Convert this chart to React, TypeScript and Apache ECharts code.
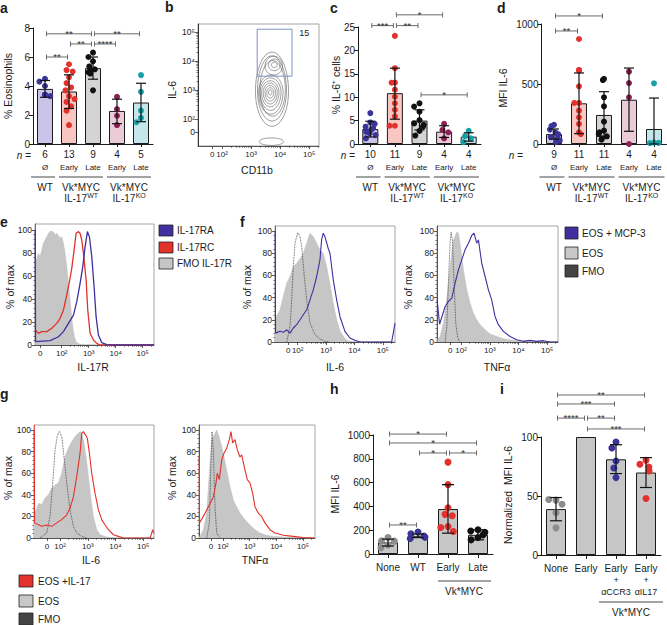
import React, { useEffect, useRef } from "react";
import * as echarts from "echarts";

const FONT = '"Liberation Sans", Arial, Helvetica, sans-serif';
const INK = "#1b1b1b";
const PURPLE = "#3f2f9f";
const RED = "#e3312b";
const GRAYFILL = "#c6c6c6";
const DOTLINE = "#333333";

// ---------------- shared category info (a, c, d) ----------------
const groupKeys = ["WT", "Early WT", "Late WT", "Early KO", "Late KO"];
const subLabels = ["Ø", "Early", "Late", "Early", "Late"];
const groupFills = ["#c9c4e8", "#f8c7c2", "#d4d4d4", "#eccbd8", "#c3e7ea"];
const groupDots = ["#3b3499", "#e2322b", "#111111", "#8b2156", "#17a1a7"];

// ---------------- panel a : % eosinophils ----------------
const aN = [6, 13, 9, 4, 5];
const aMean = [3.8, 3.62, 5.23, 2.28, 2.86];
const aErrHi = [4.38, 4.77, 6.0, 3.09, 4.19];
const aErrLo = [3.22, 2.45, 4.47, 1.4, 1.54];
const aDots = [
  [4.5, 4.3, 4.0, 3.4, 3.3, 3.4],
  [5.5, 5.1, 5.0, 4.6, 4.2, 3.9, 3.7, 3.3, 3.1, 2.9, 2.6, 2.3, 1.3],
  [6.3, 6.0, 5.7, 5.35, 5.15, 5.05, 4.95, 4.85, 3.7],
  [3.25, 2.4, 1.95, 1.3],
  [4.75, 3.6, 2.3, 1.8, 1.5],
];
const aSig = [
  { from: 0, to: 2, y: 7.6, s: "**" },
  { from: 2, to: 4, y: 7.6, s: "**" },
  { from: 1, to: 2, y: 6.9, s: "**" },
  { from: 2, to: 3, y: 6.9, s: "****" },
  { from: 0, to: 1, y: 6.0, s: "**" },
];

// ---------------- panel c : % IL-6+ cells ----------------
const cN = [10, 11, 9, 4, 4];
const cMean = [3.2, 10.86, 5.0, 2.64, 1.57];
const cErrHi = [4.86, 16.2, 7.3, 3.9, 2.4];
const cErrLo = [1.5, 5.3, 3.0, 1.4, 0.6];
const cDots = [
  [6.6, 4.6, 4.3, 3.7, 3.4, 3.0, 2.6, 2.3, 1.9, 1.2],
  [23.1, 16.2, 13.1, 13.1, 11.6, 10.1, 8.7, 7.3, 5.9, 3.9, 3.9],
  [8.7, 8.0, 6.9, 5.1, 4.4, 4.1, 3.7, 2.8, 1.8],
  [4.3, 3.0, 2.5, 1.2],
  [2.8, 1.7, 1.2, 0.4],
];
const cSig = [
  { from: 1, to: 3, y: 27.6, s: "*" },
  { from: 0, to: 1, y: 25.3, s: "***" },
  { from: 1, to: 2, y: 25.3, s: "**" },
  { from: 2, to: 4, y: 10.5, s: "*" },
];

// ---------------- panel d : MFI IL-6 ----------------
const dN = [9, 11, 11, 4, 4];
const dMean = [83, 339, 242, 369, 125];
const dErrHi = [125, 592, 436, 633, 383];
const dErrLo = [40, 86, 48, 106, 0];
const dDots = [
  [160, 150, 120, 95, 80, 60, 45, 30, 15],
  [875, 617, 611, 481, 342, 342, 278, 222, 167, 97, 83],
  [542, 533, 389, 314, 186, 111, 97, 83, 64, 47, 36],
  [603, 508, 389, 0],
  [506, 12, 8, 10],
];
const dSig = [
  { from: 0, to: 2, y: 1067, s: "*" },
  { from: 0, to: 1, y: 942, s: "**" },
];

// ---------------- panel h : MFI IL-6 (in vitro) ----------------
const hCats = ["None", "WT", "Early", "Late"];
const hMean = [97, 153, 378, 161];
const hErrHi = [125, 168, 583, 203];
const hErrLo = [67, 138, 175, 119];
const hDots = [
  [139, 111, 108, 75, 52],
  [185, 170, 150, 140, 130],
  [772, 583, 389, 333, 322, 231, 222, 189],
  [203, 194, 183, 161, 139, 119],
];
const hDotColors = ["#8c8c8c", "#3b3499", "#e2322b", "#111111"];
const hSig = [
  { from: 0, to: 2, y: 1008, s: "*" },
  { from: 0, to: 3, y: 933, s: "*" },
  { from: 1, to: 2, y: 849, s: "*" },
  { from: 2, to: 3, y: 849, s: "*" },
  { from: 0, to: 1, y: 244, s: "**" },
];

// ---------------- panel i : normalized MFI IL-6 ----------------
const iCats = ["None", "Early", "Early + αCCR3", "Early + αIL17"];
const iLabelMain = ["None", "Early", "Early", "Early"];
const iLabelTreat = ["", "", "αCCR3", "αIL17"];
const iMean = [38.9, 100, 81.1, 69.9];
const iErrHi = [48.7, 100, 93.5, 82.5];
const iErrLo = [29, 100, 69, 57.2];
const iDots = [
  [46.5, 47, 43, 35.8, 23],
  [],
  [95.8, 90.7, 79.7, 73.8, 65.6],
  [80.3, 76.9, 74.6, 71.3, 47.9],
];
const iDotColors = ["#8c8c8c", "#8c8c8c", "#3b3499", "#e2322b"];
const iSig = [
  { from: 0, to: 3, y: 135.6, s: "**" },
  { from: 0, to: 2, y: 128, s: "***" },
  { from: 0, to: 1, y: 116, s: "****" },
  { from: 1, to: 2, y: 116, s: "**" },
  { from: 1, to: 3, y: 106.8, s: "***" },
];

// ---------------- panel b : contour plot (log-decade units) ----------------
const bCx = [3.72, 3.72, 3.74, 3.78, 3.8, 3.8, 3.68, 3.67, 3.66, 3.66, 3.66, 3.66, 3.66, 3.7];
const bCy = [2.95, 2.98, 3.0, 3.82, 3.85, 3.86, 2.92, 2.92, 2.92, 2.92, 2.92, 2.92, 2.93, 1.22];
const bRx = [0.57, 0.5, 0.44, 0.3, 0.2, 0.1, 0.42, 0.36, 0.3, 0.24, 0.18, 0.12, 0.06, 0.42];
const bRyUp = [1.36, 1.2, 1.02, 0.35, 0.22, 0.1, 0.6, 0.5, 0.4, 0.32, 0.24, 0.16, 0.08, 0.13];
const bRyDn = [1.2, 1.05, 0.9, 0.3, 0.18, 0.08, 0.75, 0.62, 0.5, 0.4, 0.3, 0.2, 0.1, 0.13];
const bGate = [3.21, 3.48, 4.41, 5.1];
const bGateLabel = [4.83, 4.97];
const bGatePct = "15";

// ---------------- histograms (x in log-decade display units, y in % of max) ----------------
const eFmo = [[1.015, 71], [1.077, 75.4], [1.138, 79.7], [1.2, 76.8], [1.262, 82.6], [1.323, 88.4], [1.385, 91.3], [1.447, 94.2], [1.509, 97.1], [1.57, 98.6], [1.632, 99.1], [1.694, 98], [1.756, 95.7], [1.817, 97.1], [1.879, 95], [1.941, 92.8], [2.002, 94.2], [2.064, 88.4], [2.126, 79.7], [2.188, 68.1], [2.249, 53.6], [2.311, 39.1], [2.373, 23.2], [2.435, 11.6], [2.496, 4.9], [2.558, 2], [2.68, 0.6], [2.8, 0]];
const eRC = [[1.02, 13], [1.138, 10.1], [1.262, 11.6], [1.447, 11.6], [1.632, 14.5], [1.817, 18.8], [1.941, 23.2], [2.064, 30.4], [2.188, 43.5], [2.286, 55], [2.373, 66.7], [2.459, 82.6], [2.533, 97.1], [2.62, 98.6], [2.681, 97.1], [2.743, 91.3], [2.805, 79.7], [2.904, 56.5], [2.965, 30.4], [3.052, 10.1], [3.175, 4.3], [3.299, 1.4], [3.422, 0], [5.42, 0]];
const eRA = [[1.015, 100], [1.03, 3], [1.57, 3.8], [1.879, 7.2], [2.064, 11.6], [2.249, 18.8], [2.435, 26], [2.558, 37.7], [2.681, 53.6], [2.78, 68], [2.867, 85.5], [2.953, 98.6], [3.027, 94], [3.114, 76.8], [3.2, 50.7], [3.274, 24.6], [3.36, 8.7], [3.484, 2], [3.67, 0.3], [3.916, 0], [5.42, 0]];

const f1Eos = [[1.2, 14], [1.236, 22], [1.377, 29], [1.493, 41], [1.613, 53], [1.729, 59], [1.845, 68], [1.965, 71], [2.081, 75], [2.197, 80], [2.317, 89], [2.433, 98], [2.549, 95], [2.669, 89], [2.785, 83], [2.901, 80], [3.021, 68], [3.137, 52], [3.254, 35], [3.373, 20], [3.489, 10], [3.665, 3], [3.842, 0]];
const f1Fmo = [[1.613, 0], [1.729, 14], [1.789, 38], [1.845, 68], [1.905, 89], [2.0, 98.5], [2.081, 95], [2.141, 86], [2.222, 62], [2.317, 38], [2.433, 17], [2.609, 6.6], [2.785, 2.7], [2.961, 0.6], [3.137, 0]];
const f1Mcp = [[1.205, 100], [1.22, 8], [1.377, 9.6], [1.493, 8.7], [1.613, 11], [1.729, 8], [1.845, 12.6], [1.965, 15.6], [2.081, 20], [2.197, 24.6], [2.317, 29], [2.433, 38], [2.549, 47], [2.669, 59], [2.785, 74], [2.843, 92], [2.901, 98], [2.96, 95], [3.08, 84], [3.137, 80], [3.254, 56], [3.373, 38], [3.489, 23], [3.665, 9.6], [3.842, 3.6], [4.018, 1.5], [4.194, 0], [5.31, 0], [5.37, 8], [5.43, 17]];

const f2Eos = [[1.174, 2], [1.268, 5], [1.383, 17], [1.502, 38], [1.617, 68], [1.732, 92], [1.791, 95], [1.85, 99], [1.907, 98], [1.965, 89], [2.022, 77], [2.08, 65], [2.199, 47], [2.314, 35], [2.429, 26], [2.547, 20], [2.662, 15.6], [2.777, 12.6], [2.895, 9.6], [3.01, 7.2], [3.244, 5], [3.474, 3], [3.707, 2], [3.94, 1.2], [4.4, 0.9], [4.87, 0.6], [5.33, 0]];
const f2Fmo = [[1.443, 0], [1.502, 14], [1.557, 53], [1.617, 89], [1.652, 99], [1.698, 92], [1.756, 53], [1.815, 17], [1.885, 3.6], [1.965, 0]];
const f2Mcp = [[1.165, 38], [1.25, 16], [1.443, 32], [1.557, 36.5], [1.676, 39.5], [1.791, 53], [1.907, 65], [2.022, 74], [2.138, 83], [2.257, 89], [2.372, 96], [2.45, 98], [2.547, 89], [2.605, 92], [2.72, 71], [2.837, 59], [2.953, 47], [3.068, 38], [3.183, 23], [3.3, 15.6], [3.474, 9.6], [3.707, 5], [3.94, 2], [4.17, 0.6], [4.4, 1.5], [4.63, 0.6], [4.87, 1.2], [5.1, 0], [5.38, 0]];

const g1Eos = [[1.06, 23], [1.097, 23], [1.218, 32], [1.338, 31], [1.458, 37], [1.579, 40], [1.699, 46], [1.82, 49], [1.94, 51], [2.06, 60], [2.18, 75], [2.3, 83], [2.421, 89], [2.541, 94], [2.662, 97], [2.722, 98.5], [2.782, 97], [2.842, 91], [2.939, 75], [3.023, 57], [3.107, 38], [3.203, 20], [3.324, 7.7], [3.444, 3], [3.685, 1], [3.925, 0]];
const g1Fmo = [[1.278, 0], [1.519, 4.6], [1.639, 20], [1.735, 51], [1.82, 81.5], [1.904, 95], [1.976, 98.5], [2.06, 94], [2.144, 75], [2.24, 51], [2.361, 26], [2.481, 10.8], [2.602, 4.6], [2.782, 1.5], [2.963, 0]];
const g1Il17 = [[1.065, 100], [1.08, 14], [1.338, 10.8], [1.519, 12], [1.699, 10.8], [1.88, 14], [2.06, 17], [2.24, 21.5], [2.361, 27.7], [2.481, 38], [2.602, 57], [2.722, 78.5], [2.782, 97], [2.842, 98.5], [2.927, 95], [2.987, 92], [3.059, 78.5], [3.143, 60], [3.263, 41.5], [3.384, 26], [3.504, 17], [3.625, 12], [3.745, 7.7], [3.925, 3], [4.106, 1.5], [4.286, 0], [5.25, 0], [5.345, 7.7], [5.385, 4]];

const g2Eos = [[1.1, 1], [1.139, 1.5], [1.263, 7.7], [1.388, 23], [1.488, 60], [1.575, 91], [1.663, 95], [1.763, 100], [1.85, 94], [1.95, 84.6], [2.037, 75], [2.137, 63], [2.262, 47.7], [2.387, 35], [2.512, 29], [2.637, 23], [2.824, 17], [3.011, 12], [3.199, 7.7], [3.386, 4.6], [3.635, 2.5], [3.885, 1.5], [4.26, 1], [4.884, 0.5], [5.38, 0]];
const g2Fmo = [[1.388, 0], [1.488, 14], [1.538, 60], [1.588, 98.5], [1.638, 81.5], [1.7, 29], [1.763, 4.6], [1.888, 0]];
const g2Il17 = [[1.105, 75], [1.12, 14], [1.263, 20], [1.388, 26], [1.513, 32], [1.638, 38], [1.738, 51], [1.788, 60], [1.863, 54], [1.95, 72], [2.037, 78.5], [2.137, 83], [2.237, 91], [2.3, 98.5], [2.362, 88], [2.45, 91], [2.537, 81.5], [2.637, 75], [2.7, 77], [2.824, 63], [2.911, 54], [3.011, 51], [3.111, 41.5], [3.199, 29], [3.323, 23], [3.448, 20], [3.573, 14], [3.76, 7.7], [3.948, 4.6], [4.26, 2.5], [4.634, 1.5], [5.009, 0.5], [5.446, 0]];

const pctTicks = [0, 20, 40, 60, 80, 100];
const pctMinor = [4, 8, 12, 16, 24, 28, 32, 36, 44, 48, 52, 56, 64, 68, 72, 76, 84, 88, 92, 96];

// ---------------- helpers ----------------
let measureCtx: any = null;
function textW(s: string, size: number) {
  if (!measureCtx) measureCtx = document.createElement("canvas").getContext("2d");
  measureCtx.font = `${size}px ${FONT}`;
  return measureCtx.measureText(s).width;
}

function fmtLog(v: number, zero: number) {
  if (Math.abs(v - zero) < 1e-6) return "0";
  const sup: any = { 2: "²", 3: "³", 4: "⁴", 5: "⁵" };
  return "10" + (sup[Math.round(v)] || "");
}

function minorLog(max: number) {
  const out: number[] = [];
  for (let d = 2; d <= 5; d++) {
    for (let k = 2; k <= 9; k++) {
      const v = d + Math.log10(k);
      if (v < max) out.push(v);
    }
  }
  return out;
}

function T(x: number, y: number, text: string, o: any = {}) {
  const { rotation, ...st } = o;
  return {
    type: "text",
    x,
    y,
    rotation: rotation || 0,
    silent: true,
    z: 10,
    style: {
      text,
      fontSize: 10,
      fontFamily: FONT,
      fill: INK,
      align: "center",
      textAlign: "center",
      verticalAlign: "middle",
      textVerticalAlign: "middle",
      ...st,
    },
  };
}

function L(x1: number, y1: number, x2: number, y2: number, color = INK, w = 1) {
  return { type: "line", silent: true, z: 10, shape: { x1, y1, x2, y2 }, style: { stroke: color, lineWidth: w } };
}

function R(x: number, y: number, w: number, h: number, fill: string) {
  return { type: "rect", silent: true, z: 10, shape: { x, y, width: w, height: h }, style: { fill, stroke: "#222", lineWidth: 0.8 } };
}

function supLabel(cx: number, y: number, base: string, sup: string) {
  const bw = textW(base, 10);
  const sw = textW(sup, 7);
  const x0 = cx - (bw + sw) / 2;
  return [
    T(x0, y, base, { align: "left", textAlign: "left" }),
    T(x0 + bw + 0.3, y - 3.2, sup, { align: "left", textAlign: "left", fontSize: 7 }),
  ];
}

function buildOption() {
  const grids: any[] = [];
  const xAxis: any[] = [];
  const yAxis: any[] = [];
  const series: any[] = [];
  const els: any[] = [];

  function addGrid(left: number, top: number, width: number, height: number, extra: any = {}) {
    grids.push({ left, top, width, height, containLabel: false, outerBoundsMode: "none", ...extra });
    return grids.length - 1;
  }

  function barPanel(p: any) {
    const n = p.keys.length;
    const g = addGrid(p.left, p.top, p.band * n, p.height);
    const xi = xAxis.length;
    xAxis.push({
      type: "category",
      gridIndex: g,
      data: p.keys,
      boundaryGap: true,
      axisLine: { show: true, onZero: false, lineStyle: { color: INK, width: 1 } },
      axisTick: { show: true, alignWithLabel: true, length: p.tickLen, lineStyle: { color: INK, width: 1 } },
      axisLabel: {
        show: true,
        interval: 0,
        margin: p.labelMargin,
        formatter: (_v: any, i: number) => p.labelFmt(i),
        color: INK,
        fontFamily: FONT,
        ...(p.labelStyle || {}),
      },
      splitLine: { show: false },
      jitter: p.barWidth - 4,
      jitterOverlap: false,
      jitterMargin: 0.3,
    });
    const yi = yAxis.length;
    yAxis.push({
      type: "value",
      gridIndex: g,
      min: 0,
      max: p.yMax,
      interval: p.yInterval,
      axisLine: { show: true, onZero: false, lineStyle: { color: INK, width: 1 } },
      axisTick: { show: true, length: 4, lineStyle: { color: INK, width: 1 } },
      axisLabel: { fontSize: 10, margin: 3, color: INK, fontFamily: FONT, formatter: (v: number) => String(v) },
      splitLine: { show: false },
    });
    series.push({
      type: "bar",
      xAxisIndex: xi,
      yAxisIndex: yi,
      barWidth: p.barWidth,
      z: 2,
      silent: true,
      data: p.mean.map((m: number, i: number) => ({
        value: m,
        itemStyle: { color: p.fills[i], borderColor: INK, borderWidth: 1 },
      })),
    });
    p.dots.forEach((arr: number[], i: number) => {
      if (!arr.length) return;
      series.push({
        type: "scatter",
        xAxisIndex: xi,
        yAxisIndex: yi,
        symbolSize: p.dotSize,
        z: 3,
        silent: true,
        data: arr.map((v) => [i, v]),
        itemStyle: { color: p.dotColors[i], opacity: 1 },
      });
    });
    const errData = p.mean
      .map((_m: number, i: number) => [i, p.lo[i], p.hi[i]])
      .filter((d: number[]) => d[1] !== d[2]);
    const capW = p.capW;
    series.push({
      type: "custom",
      xAxisIndex: xi,
      yAxisIndex: yi,
      z: 4,
      silent: true,
      encode: { x: 0, y: [1, 2] },
      data: errData,
      renderItem: (_params: any, api: any) => {
        const x = api.value(0);
        const a = api.coord([x, api.value(1)]);
        const b = api.coord([x, api.value(2)]);
        const st = { stroke: "#111", lineWidth: 1.2 };
        const h = capW / 2;
        return {
          type: "group",
          children: [
            { type: "line", shape: { x1: a[0], y1: a[1], x2: b[0], y2: b[1] }, style: st },
            { type: "line", shape: { x1: a[0] - h, y1: a[1], x2: a[0] + h, y2: a[1] }, style: st },
            { type: "line", shape: { x1: b[0] - h, y1: b[1], x2: b[0] + h, y2: b[1] }, style: st },
          ],
        };
      },
    });
    const sig = p.sig;
    series.push({
      type: "custom",
      xAxisIndex: xi,
      yAxisIndex: yi,
      z: 5,
      silent: true,
      encode: { x: [0, 1], y: 2 },
      data: sig.map((s: any) => [s.from, s.to, s.y]),
      renderItem: (params: any, api: any) => {
        const a = api.coord([api.value(0), api.value(2)]);
        const b = api.coord([api.value(1), api.value(2)]);
        const x1 = a[0] + 1.5;
        const x2 = b[0] - 1.5;
        const y = a[1];
        const st = { stroke: "#6a6a6a", lineWidth: 1 };
        return {
          type: "group",
          children: [
            { type: "line", shape: { x1, y1: y, x2, y2: y }, style: st },
            { type: "line", shape: { x1, y1: y - 2.5, x2: x1, y2: y + 2.5 }, style: st },
            { type: "line", shape: { x1: x2, y1: y - 2.5, x2, y2: y + 2.5 }, style: st },
            {
              type: "text",
              x: (x1 + x2) / 2,
              y: y - 0.5,
              style: {
                text: sig[params.dataIndex].s,
                fontSize: 9.5,
                fontFamily: FONT,
                fill: "#333",
                align: "center",
                textAlign: "center",
                verticalAlign: "middle",
                textVerticalAlign: "middle",
              },
            },
          ],
        };
      },
    });
    return { xi, yi, centers: p.keys.map((_k: any, i: number) => p.left + (i + 0.5) * p.band) };
  }

  function flowPanel(p: any) {
    const g = addGrid(p.left, p.top, p.width, p.height, {
      show: true,
      borderColor: "#8f8f8f",
      borderWidth: 0.8,
      backgroundColor: "rgba(0,0,0,0)",
    });
    const majors = [p.zero, 2, 3, 4, 5];
    const xi = xAxis.length;
    const tickStyle = { color: "#333", width: 0.8 };
    xAxis.push({
      type: "value",
      gridIndex: g,
      position: "bottom",
      min: p.xMin,
      max: p.xMax,
      axisLine: { show: true, onZero: false, lineStyle: { color: "#333", width: 0.8 } },
      axisTick: { show: true, customValues: majors, length: 3, lineStyle: tickStyle },
      axisLabel: {
        show: true,
        customValues: majors,
        formatter: (v: number) => fmtLog(v, p.zero),
        fontSize: 8,
        margin: 4,
        color: INK,
        fontFamily: FONT,
      },
      splitLine: { show: false },
    });
    xAxis.push({
      type: "value",
      gridIndex: g,
      position: "bottom",
      min: p.xMin,
      max: p.xMax,
      axisLine: { show: false },
      axisTick: { show: true, customValues: minorLog(p.xMax), length: 1.8, lineStyle: { color: "#333", width: 0.6 } },
      axisLabel: { show: false },
      splitLine: { show: false },
    });
    const yi = yAxis.length;
    yAxis.push({
      type: "value",
      gridIndex: g,
      position: "left",
      min: p.yMin,
      max: p.yMax,
      axisLine: { show: true, onZero: false, lineStyle: { color: p.leftColor, width: 1 } },
      axisTick: { show: true, customValues: p.yTicks, length: 3, lineStyle: tickStyle },
      axisLabel: {
        show: true,
        customValues: p.yTicks,
        formatter: p.yFmt,
        fontSize: 8.5,
        margin: 3,
        color: INK,
        fontFamily: FONT,
      },
      splitLine: { show: false },
    });
    yAxis.push({
      type: "value",
      gridIndex: g,
      position: "left",
      min: p.yMin,
      max: p.yMax,
      axisLine: { show: false },
      axisTick: { show: true, customValues: p.yMinor, length: 1.6, lineStyle: { color: "#333", width: 0.6 } },
      axisLabel: { show: false },
      splitLine: { show: false },
    });
    (p.curves || []).forEach((c: any) => {
      series.push({
        type: "line",
        xAxisIndex: xi,
        yAxisIndex: yi,
        data: c.data,
        showSymbol: false,
        symbol: "none",
        silent: true,
        z: c.z,
        lineStyle: { color: c.color, width: c.width, type: c.type || "solid" },
        areaStyle: c.fill ? { color: c.fill, opacity: 1 } : undefined,
      });
    });
    return { xi, yi };
  }

  // ---------- bar panels ----------
  const richNS = {
    n: { fontSize: 10, lineHeight: 13, fontFamily: FONT, color: INK },
    s: { fontSize: 8, lineHeight: 13, fontFamily: FONT, color: INK },
  };
  const common = { barWidth: 16, dotSize: 6, capW: 10, tickLen: 3, labelMargin: 4, fills: groupFills, dotColors: groupDots, keys: groupKeys };

  const pa = barPanel({
    ...common, left: 33, top: 28, band: 24, height: 116, yMax: 8, yInterval: 2,
    mean: aMean, hi: aErrHi, lo: aErrLo, dots: aDots, sig: aSig,
    labelFmt: (i: number) => `{n|${aN[i]}}\n{s|${subLabels[i]}}`, labelStyle: { rich: richNS },
  });
  const pc = barPanel({
    ...common, left: 358, top: 27, band: 24.6, height: 117, yMax: 25, yInterval: 5,
    mean: cMean, hi: cErrHi, lo: cErrLo, dots: cDots, sig: cSig,
    labelFmt: (i: number) => `{n|${cN[i]}}\n{s|${subLabels[i]}}`, labelStyle: { rich: richNS },
  });
  const pd = barPanel({
    ...common, left: 541.5, top: 24, band: 25, height: 120, yMax: 1000, yInterval: 500,
    mean: dMean, hi: dErrHi, lo: dErrLo, dots: dDots, sig: dSig,
    labelFmt: (i: number) => `{n|${dN[i]}}\n{s|${subLabels[i]}}`, labelStyle: { rich: richNS },
  });
  barPanel({
    keys: hCats, left: 373, top: 435, band: 30, height: 119, yMax: 1000, yInterval: 200,
    barWidth: 20, dotSize: 7, capW: 12, tickLen: 4, labelMargin: 8,
    fills: hCats.map(() => GRAYFILL), dotColors: hDotColors,
    mean: hMean, hi: hErrHi, lo: hErrLo, dots: hDots, sig: hSig,
    labelFmt: (i: number) => hCats[i], labelStyle: { fontSize: 10, lineHeight: 11.5 },
  });
  const richI = {
    m: { fontSize: 10, lineHeight: 11.5, fontFamily: FONT, color: INK },
    t: { fontSize: 9, lineHeight: 11.5, fontFamily: FONT, color: INK },
  };
  barPanel({
    keys: iCats, left: 541, top: 437, band: 30, height: 118, yMax: 100, yInterval: 50,
    barWidth: 20, dotSize: 7, capW: 12, tickLen: 4, labelMargin: 8,
    fills: iCats.map(() => GRAYFILL), dotColors: iDotColors,
    mean: iMean, hi: iErrHi, lo: iErrLo, dots: iDots, sig: iSig,
    labelFmt: (i: number) =>
      iLabelTreat[i] ? `{m|${iLabelMain[i]}}\n{t|+}\n{t|${iLabelTreat[i]}}` : `{m|${iLabelMain[i]}}`,
    labelStyle: { rich: richI },
  });

  // group labels under a, c, d
  [
    { pp: pa, left: 33, band: 24, nx: 31 },
    { pp: pc, left: 358, band: 24.6, nx: 355 },
    { pp: pd, left: 541.5, band: 25, nx: 523 },
  ].forEach(({ pp, left, band, nx }) => {
    const c = pp.centers;
    els.push(T(nx, 155, "{i|n} =", { align: "right", textAlign: "right", rich: { i: { fontStyle: "italic", fontSize: 10, fontFamily: FONT } } }));
    const segs = [[0, 0], [1, 2], [3, 4]];
    segs.forEach(([i0, i1]) => {
      const x1 = left + i0 * band + (i0 === 0 ? -2 : 2);
      const x2 = left + (i1 + 1) * band - 2;
      els.push(L(x1, 177, x2, 177, INK, 0.8));
    });
    els.push(T(c[0], 187, "WT"));
    els.push(T((c[1] + c[2]) / 2, 187, "Vk*MYC"));
    els.push(T((c[3] + c[4]) / 2, 187, "Vk*MYC"));
    els.push(...supLabel((c[1] + c[2]) / 2, 198.5, "IL-17", "WT"));
    els.push(...supLabel((c[3] + c[4]) / 2, 198.5, "IL-17", "KO"));
  });

  // h / i group lines
  els.push(L(438, 581, 491, 581, INK, 0.8));
  els.push(T(464, 591, "Vk*MYC"));
  els.push(L(599, 602, 663, 602, INK, 0.8));
  els.push(T(631, 612, "Vk*MYC"));

  // ---------- panel b ----------
  const pb = flowPanel({
    left: 198, top: 24, width: 121, height: 122, xMin: 1.17, xMax: 5.34, zero: 1.66,
    yMin: 1.07, yMax: 5.28, yTicks: [1.55, 2, 3, 4, 5], yMinor: minorLog(5.28),
    yFmt: (v: number) => fmtLog(v, 1.55), leftColor: "#333",
  });
  series.push({
    type: "custom",
    xAxisIndex: pb.xi,
    yAxisIndex: pb.yi,
    z: 3,
    silent: true,
    encode: { x: 0, y: 1 },
    data: bCx.map((cx, i) => [cx, bCy[i], bRx[i], bRyUp[i], bRyDn[i]]),
    renderItem: (_params: any, api: any) => {
      const c = api.coord([api.value(0), api.value(1)]);
      const rx = api.size([api.value(2), 0])[0];
      const up = api.size([0, api.value(3)])[1];
      const dn = api.size([0, api.value(4)])[1];
      const pts: number[][] = [];
      for (let k = 0; k < 60; k++) {
        const t = (k / 60) * Math.PI * 2;
        const s = Math.sin(t);
        pts.push([c[0] + rx * Math.cos(t), c[1] - (s > 0 ? up : dn) * s]);
      }
      return { type: "polygon", shape: { points: pts }, style: { fill: "none", stroke: "#5a5a5a", lineWidth: 0.6 } };
    },
  });
  series.push({
    type: "custom",
    xAxisIndex: pb.xi,
    yAxisIndex: pb.yi,
    z: 4,
    silent: true,
    encode: { x: [0, 2], y: [1, 3] },
    data: [[bGate[0], bGate[1], bGate[2], bGate[3], bGateLabel[0], bGateLabel[1]]],
    renderItem: (_params: any, api: any) => {
      const a = api.coord([api.value(0), api.value(3)]);
      const b = api.coord([api.value(2), api.value(1)]);
      const t = api.coord([api.value(4), api.value(5)]);
      return {
        type: "group",
        children: [
          { type: "rect", shape: { x: a[0], y: a[1], width: b[0] - a[0], height: b[1] - a[1] }, style: { fill: "none", stroke: "#7d92c6", lineWidth: 1 } },
          { type: "text", x: t[0], y: t[1], style: { text: bGatePct, fontSize: 9, fontFamily: FONT, fill: INK, align: "center", textAlign: "center", verticalAlign: "middle", textVerticalAlign: "middle" } },
        ],
      };
    },
  });

  // ---------- histograms ----------
  const pctAxis = { yMin: 0, yTicks: pctTicks, yMinor: pctMinor, yFmt: (v: number) => String(v) };
  flowPanel({
    ...pctAxis, left: 35, top: 224, width: 119, height: 121, xMin: 1.01, xMax: 5.42, zero: 1.2, yMax: 105.2, leftColor: "#6a5cc0",
    curves: [
      { data: eFmo, color: "#bdbdbd", width: 0.5, fill: GRAYFILL, z: 2 },
      { data: eRC, color: RED, width: 1.3, z: 4 },
      { data: eRA, color: PURPLE, width: 1.3, z: 5 },
    ],
  });
  flowPanel({
    ...pctAxis, left: 275, top: 226, width: 120, height: 116, xMin: 1.2, xMax: 5.43, zero: 1.67, yMax: 104.5, leftColor: "#6a5cc0",
    curves: [
      { data: f1Eos, color: "#bdbdbd", width: 0.5, fill: GRAYFILL, z: 2 },
      { data: f1Fmo, color: DOTLINE, width: 0.8, type: "dotted", z: 3 },
      { data: f1Mcp, color: PURPLE, width: 1.1, z: 4 },
    ],
  });
  flowPanel({
    ...pctAxis, left: 437, top: 226, width: 121, height: 116, xMin: 1.16, xMax: 5.38, zero: 1.62, yMax: 104.5, leftColor: "#555",
    curves: [
      { data: f2Eos, color: "#bdbdbd", width: 0.5, fill: GRAYFILL, z: 2 },
      { data: f2Fmo, color: DOTLINE, width: 0.8, type: "dotted", z: 3 },
      { data: f2Mcp, color: PURPLE, width: 1.1, z: 4 },
    ],
  });
  flowPanel({
    ...pctAxis, left: 34, top: 425, width: 120, height: 113, xMin: 1.06, xMax: 5.39, zero: 1.53, yMax: 104.6, leftColor: "#e8554f",
    curves: [
      { data: g1Eos, color: "#bdbdbd", width: 0.5, fill: GRAYFILL, z: 2 },
      { data: g1Fmo, color: DOTLINE, width: 0.8, type: "dotted", z: 3 },
      { data: g1Il17, color: RED, width: 1.1, z: 4 },
    ],
  });
  flowPanel({
    ...pctAxis, left: 199, top: 425, width: 116, height: 113, xMin: 1.1, xMax: 5.45, zero: 1.55, yMax: 104.6, leftColor: "#555",
    curves: [
      { data: g2Eos, color: "#bdbdbd", width: 0.5, fill: GRAYFILL, z: 2 },
      { data: g2Fmo, color: DOTLINE, width: 0.8, type: "dotted", z: 3 },
      { data: g2Il17, color: RED, width: 1.1, z: 4 },
    ],
  });

  // ---------- legends ----------
  const lg = { align: "left", textAlign: "left", fontSize: 10 };
  els.push(R(159, 225, 14, 11, PURPLE), T(177, 230.5, "IL-17RA", lg));
  els.push(R(159, 242, 14, 11, RED), T(177, 247.5, "IL-17RC", lg));
  els.push(R(159, 258, 14, 11, GRAYFILL), T(177, 263.5, "FMO IL-17R", lg));
  els.push(R(565, 227, 13, 12, PURPLE), T(582, 233, "EOS + MCP-3", lg));
  els.push(R(565, 247, 13, 12, "#c8c8c8"), T(582, 253, "EOS", lg));
  els.push(R(565, 265, 13, 12, "#444"), T(582, 271, "FMO", lg));
  els.push(R(19, 575, 14, 12, RED), T(38, 581, "EOS +IL-17", lg));
  els.push(R(19, 595, 14, 12, "#c8c8c8"), T(38, 601, "EOS", lg));
  els.push(R(19, 613, 14, 12, "#444"), T(38, 619, "FMO", lg));

  // ---------- axis titles ----------
  const rot = { rotation: Math.PI / 2, fontSize: 10.5 };
  const xt = { fontSize: 10.5 };
  els.push(T(8, 86, "% Eosinophils", rot));
  els.push(T(172, 90, "IL-6", rot));
  els.push(T(257, 170, "CD11b", xt));
  els.push(T(336, 85, "% IL-6⁺ cells", rot));
  els.push(T(503, 88, "MFI IL-6", rot));
  els.push(T(10, 287, "% of max", rot));
  els.push(T(93, 367, "IL-17R", xt));
  els.push(T(247, 287, "% of max", rot));
  els.push(T(335, 367, "IL-6", xt));
  els.push(T(408, 287, "% of max", rot));
  els.push(T(497, 367, "TNFα", xt));
  els.push(T(8, 478, "% of max", rot));
  els.push(T(91, 560, "IL-6", xt));
  els.push(T(172, 478, "% of max", rot));
  els.push(T(255, 560, "TNFα", xt));
  els.push(T(335, 494, "MFI IL-6", rot));
  els.push(T(508, 495, "Normalized  MFI IL-6", rot));

  // ---------- panel letters ----------
  const letter = { fontSize: 14, fontWeight: "bold", align: "left", textAlign: "left" };
  [
    ["a", 0, 8], ["b", 165, 7], ["c", 330, 8], ["d", 497, 8],
    ["e", 0, 222], ["f", 240, 222], ["g", 0, 394], ["h", 330, 389], ["i", 500, 389],
  ].forEach(([t, x, y]: any) => els.push(T(x, y, t, letter)));

  return {
    animation: false,
    backgroundColor: "#ffffff",
    textStyle: { fontFamily: FONT },
    grid: grids,
    xAxis,
    yAxis,
    series,
    graphic: { elements: els },
  };
}

export default function App() {
  const ref = useRef<HTMLDivElement>(null);
  useEffect(() => {
    const chart = echarts.init(ref.current as HTMLDivElement, null, { renderer: "svg", width: 667, height: 625 });
    chart.setOption(buildOption() as any);
    return () => chart.dispose();
  }, []);
  return (
    <div
      ref={ref}
      style={{ position: "absolute", left: 0, top: 0, width: 667, height: 625, background: "#fff" }}
    />
  );
}
